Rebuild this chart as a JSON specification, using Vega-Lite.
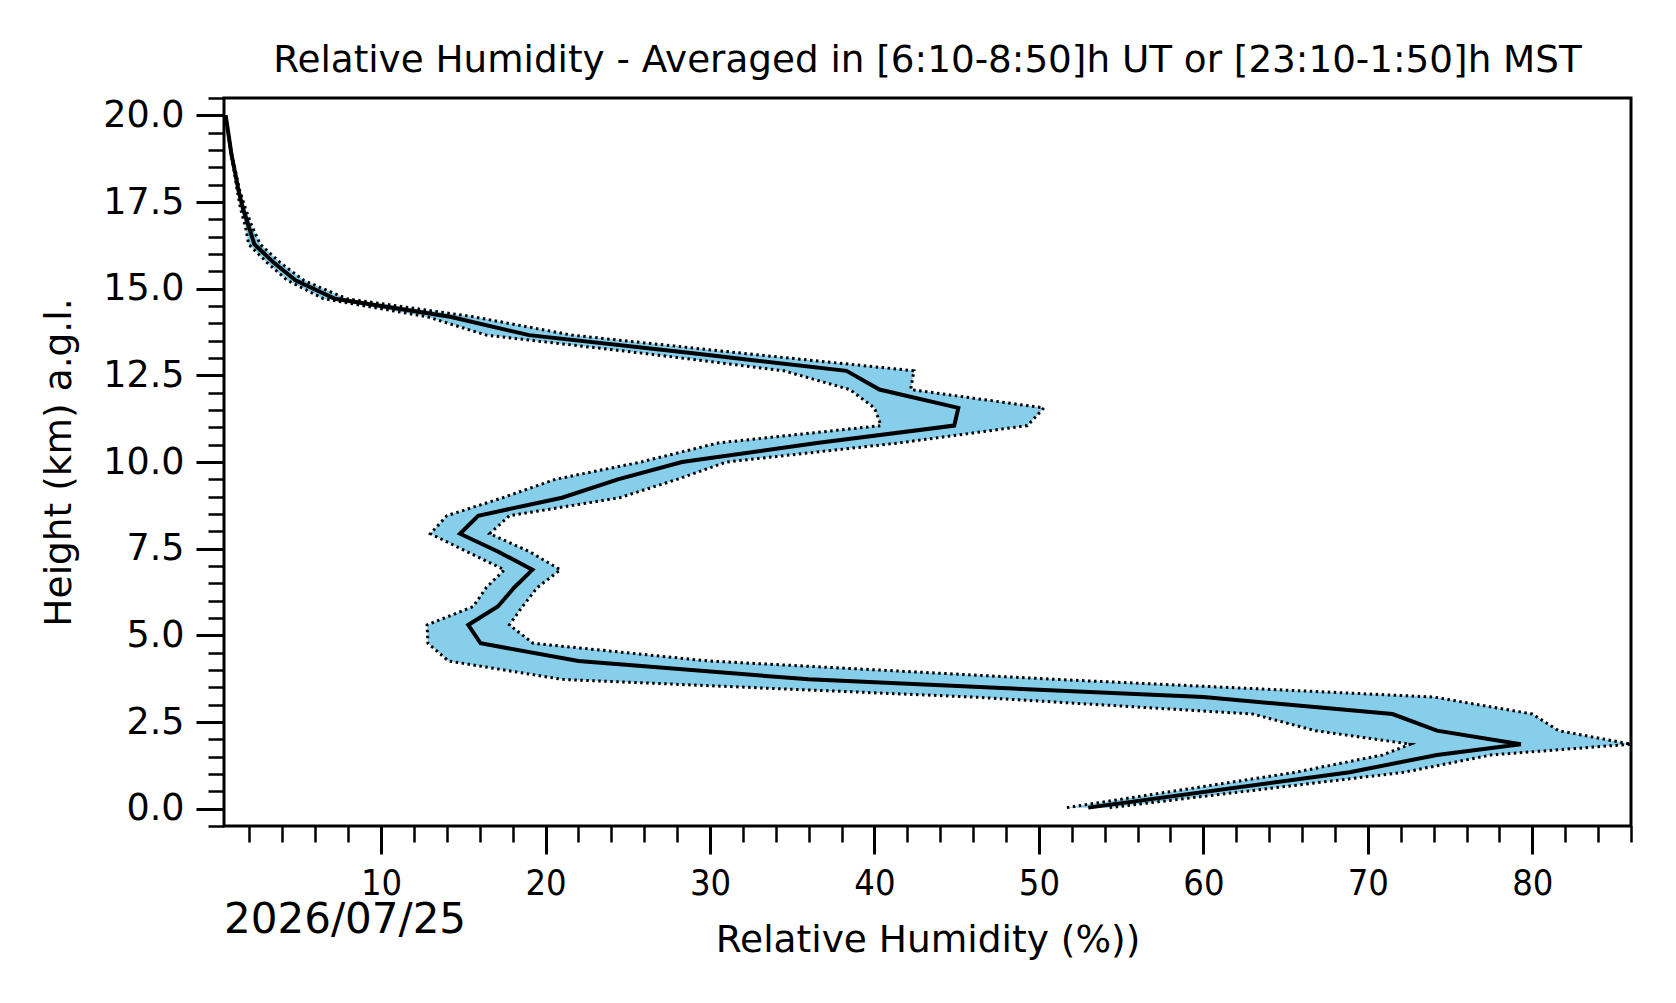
{
  "$schema": "https://vega.github.io/schema/vega-lite/v6.json",
  "autosize": {"type": "none"},
  "padding": {"left": 224, "top": 98, "right": 45, "bottom": 177},
  "width": 1407,
  "height": 728,
  "background": "white",
  "title": {
    "text": "Relative Humidity - Averaged in [6:10-8:50]h UT or [23:10-1:50]h MST",
    "font": "DejaVu Sans",
    "fontSize": 37.3,
    "fontWeight": "normal",
    "color": "black",
    "anchor": "middle",
    "offset": 16
  },
  "data": {
    "values": [
      {"h": 0.03, "mean": 53.0, "lo": 51.7, "hi": 54.3},
      {"h": 1.05, "mean": 68.9, "lo": 65.6, "hi": 72.2},
      {"h": 1.55, "mean": 74.2, "lo": 70.9, "hi": 77.5},
      {"h": 1.86, "mean": 79.3, "lo": 72.6, "hi": 86.0},
      {"h": 2.25, "mean": 74.2, "lo": 66.8, "hi": 81.6},
      {"h": 2.73, "mean": 71.5, "lo": 63.0, "hi": 80.0},
      {"h": 3.22, "mean": 60.0, "lo": 46.0, "hi": 74.0},
      {"h": 3.73, "mean": 36.0, "lo": 21.0, "hi": 51.0},
      {"h": 4.26, "mean": 22.0, "lo": 14.1, "hi": 29.9},
      {"h": 4.77, "mean": 16.05, "lo": 12.85, "hi": 19.25},
      {"h": 5.30, "mean": 15.3, "lo": 12.8, "hi": 17.8},
      {"h": 5.83, "mean": 17.1, "lo": 15.6, "hi": 18.6},
      {"h": 6.38, "mean": 18.1, "lo": 16.4, "hi": 19.5},
      {"h": 6.89, "mean": 19.2, "lo": 17.5, "hi": 20.9},
      {"h": 7.42, "mean": 17.1, "lo": 15.2, "hi": 19.0},
      {"h": 7.93, "mean": 14.8, "lo": 13.0, "hi": 16.6},
      {"h": 8.45, "mean": 15.9, "lo": 14.0, "hi": 17.8},
      {"h": 8.97, "mean": 21.0, "lo": 17.4, "hi": 24.5},
      {"h": 9.50, "mean": 24.4, "lo": 20.6, "hi": 28.0},
      {"h": 10.0, "mean": 28.3, "lo": 25.8, "hi": 31.0},
      {"h": 10.55, "mean": 36.5, "lo": 30.5, "hi": 41.5},
      {"h": 11.05, "mean": 44.85, "lo": 40.4, "hi": 49.3},
      {"h": 11.56, "mean": 45.1, "lo": 40.0, "hi": 50.3},
      {"h": 12.09, "mean": 40.3, "lo": 38.5, "hi": 42.2},
      {"h": 12.63, "mean": 38.3, "lo": 34.5, "hi": 42.4},
      {"h": 13.15, "mean": 28.7, "lo": 25.7, "hi": 31.7},
      {"h": 13.66, "mean": 19.0, "lo": 16.4, "hi": 21.6},
      {"h": 14.19, "mean": 14.2, "lo": 12.8, "hi": 15.6},
      {"h": 14.71, "mean": 7.2, "lo": 6.5, "hi": 7.9},
      {"h": 15.24, "mean": 4.8, "lo": 4.3, "hi": 5.3},
      {"h": 15.76, "mean": 3.45, "lo": 3.05, "hi": 3.85},
      {"h": 16.28, "mean": 2.3, "lo": 1.95, "hi": 2.65},
      {"h": 16.80, "mean": 1.95, "lo": 1.75, "hi": 2.15},
      {"h": 17.32, "mean": 1.6, "lo": 1.45, "hi": 1.75},
      {"h": 17.84, "mean": 1.33, "lo": 1.25, "hi": 1.4},
      {"h": 18.36, "mean": 1.12, "lo": 1.08, "hi": 1.16},
      {"h": 18.88, "mean": 0.9, "lo": 0.88, "hi": 0.92},
      {"h": 19.40, "mean": 0.74, "lo": 0.73, "hi": 0.75},
      {"h": 20.0, "mean": 0.55, "lo": 0.55, "hi": 0.55}
    ]
  },
  "layer": [
    {
      "mark": {"type": "area", "orient": "horizontal", "color": "#87CEEB", "opacity": 1, "clip": true},
      "encoding": {
        "y": {
          "field": "h",
          "type": "quantitative",
          "scale": {"domain": [-0.5, 20.5], "nice": false, "zero": false},
          "axis": {
            "orient": "left",
            "title": "Height (km) a.g.l.",
            "titleFont": "DejaVu Sans",
            "titleFontSize": 37.5,
            "titleFontWeight": "normal",
            "titleColor": "black",
            "titlePadding": 24,
            "values": [0, 2.5, 5, 7.5, 10, 12.5, 15, 17.5, 20],
            "format": ".1f",
            "labelOverlap": false,
            "labelFlush": false,
            "labelFont": "DejaVu Sans",
            "labelFontSize": 36.5,
            "labelColor": "black",
            "labelPadding": 12,
            "tickColor": "black",
            "tickSize": 28,
            "tickWidth": 3,
            "domain": false,
            "grid": false
          }
        },
        "x": {
          "field": "lo",
          "type": "quantitative",
          "scale": {"domain": [0.45, 86], "nice": false, "zero": false},
          "axis": {
            "orient": "bottom",
            "title": "Relative Humidity (%))",
            "titleFont": "DejaVu Sans",
            "titleFontSize": 37.5,
            "titleFontWeight": "normal",
            "titleColor": "black",
            "titlePadding": 20,
            "values": [10, 20, 30, 40, 50, 60, 70, 80],
            "format": "d",
            "labelOverlap": false,
            "labelFlush": false,
            "labelFont": "DejaVu Sans Condensed",
            "labelFontSize": 36,
            "labelColor": "black",
            "labelPadding": 12,
            "tickColor": "black",
            "tickSize": 28,
            "tickWidth": 3,
            "domain": false,
            "grid": false
          }
        },
        "x2": {"field": "hi"}
      }
    },
    {
      "mark": {"type": "line", "color": "black", "strokeWidth": 3, "strokeDash": [2.5, 3.5], "clip": true},
      "encoding": {
        "y": {
          "field": "h",
          "type": "quantitative",
          "axis": {
            "orient": "left",
            "title": null,
            "values": [-0.5, 0.5, 1, 1.5, 2, 3, 3.5, 4, 4.5, 5.5, 6, 6.5, 7, 8, 8.5, 9, 9.5, 10.5, 11, 11.5, 12, 13, 13.5, 14, 14.5, 15.5, 16, 16.5, 17, 18, 18.5, 19, 19.5, 20.5],
            "labels": false,
            "tickColor": "black",
            "tickSize": 16,
            "tickWidth": 2.5,
            "domain": false,
            "grid": false
          }
        },
        "x": {
          "field": "lo",
          "type": "quantitative",
          "axis": {
            "orient": "bottom",
            "title": null,
            "values": [2, 4, 6, 8, 12, 14, 16, 18, 22, 24, 26, 28, 32, 34, 36, 38, 42, 44, 46, 48, 52, 54, 56, 58, 62, 64, 66, 68, 72, 74, 76, 78, 82, 84, 86],
            "labels": false,
            "tickColor": "black",
            "tickSize": 16,
            "tickWidth": 2.5,
            "domain": false,
            "grid": false
          }
        },
        "order": {"field": "h", "type": "quantitative"}
      }
    },
    {
      "mark": {"type": "line", "color": "black", "strokeWidth": 3, "strokeDash": [2.5, 3.5], "clip": true},
      "encoding": {
        "y": {"field": "h", "type": "quantitative", "axis": null},
        "x": {"field": "hi", "type": "quantitative", "axis": null},
        "order": {"field": "h", "type": "quantitative"}
      }
    },
    {
      "mark": {"type": "line", "color": "black", "strokeWidth": 4, "clip": true},
      "encoding": {
        "y": {"field": "h", "type": "quantitative", "axis": null},
        "x": {"field": "mean", "type": "quantitative", "axis": null},
        "order": {"field": "h", "type": "quantitative"}
      }
    },
    {
      "data": {"values": [{"date": "2026/07/25"}]},
      "mark": {"type": "text", "align": "left", "baseline": "middle", "font": "DejaVu Sans", "fontSize": 42, "color": "black"},
      "encoding": {
        "x": {"datum": 0.45, "type": "quantitative", "axis": null},
        "y": {"datum": -3.2, "type": "quantitative", "axis": null},
        "text": {"field": "date", "type": "nominal"}
      }
    }
  ],
  "resolve": {"axis": {"x": "independent", "y": "independent"}},
  "config": {
    "view": {"stroke": "black", "strokeWidth": 3},
    "font": "DejaVu Sans"
  }
}
